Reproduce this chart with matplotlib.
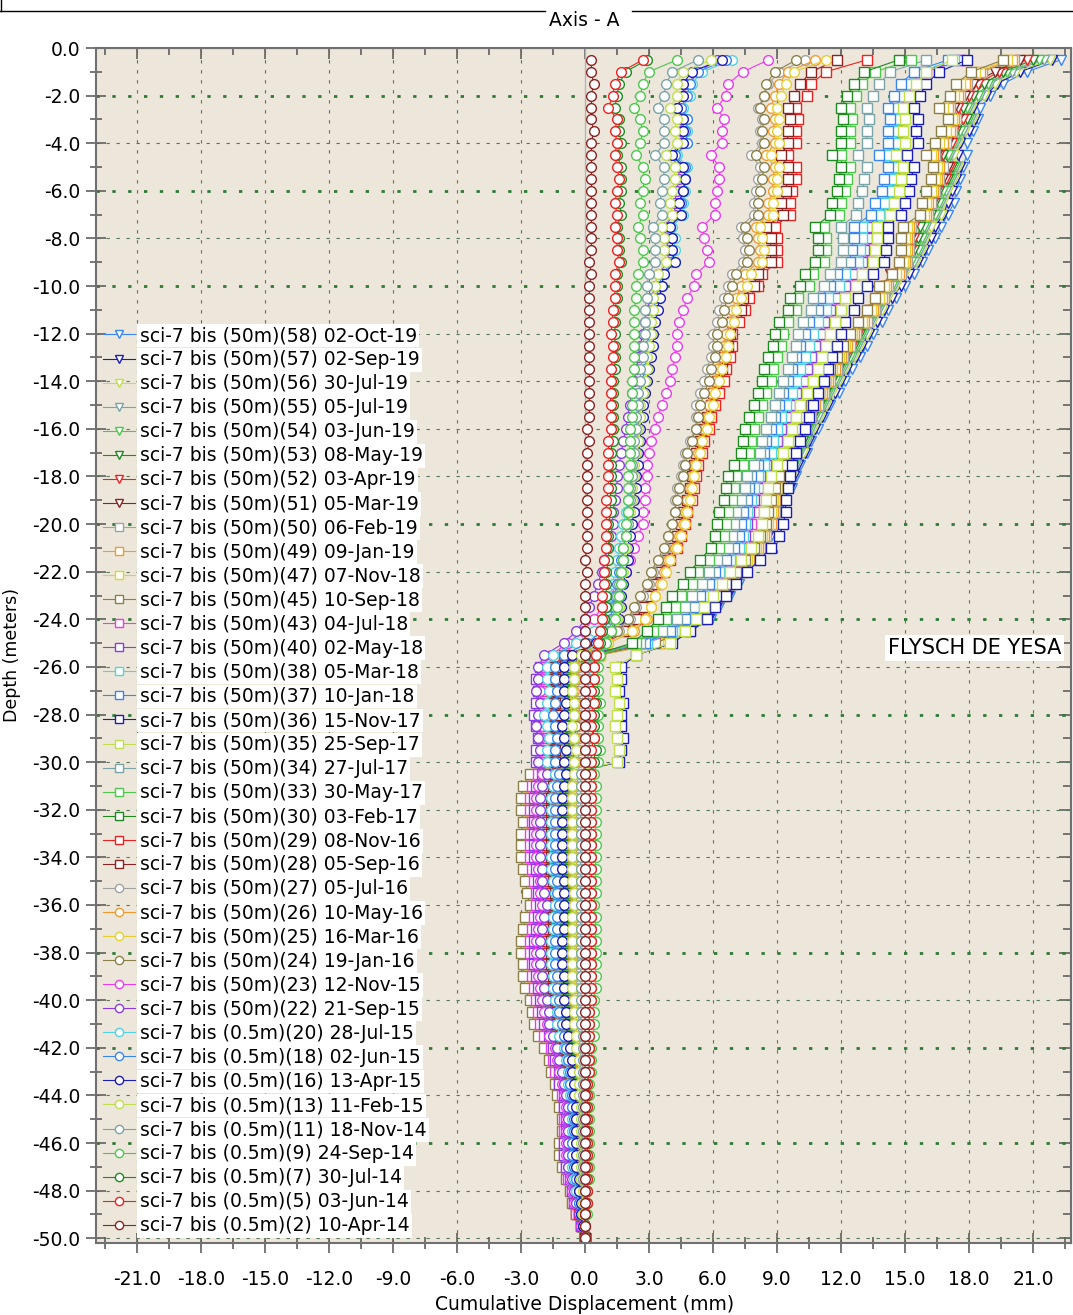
import numpy as np
import matplotlib
matplotlib.use('Agg')
import matplotlib.pyplot as plt
from matplotlib.lines import Line2D
from matplotlib.ticker import MultipleLocator, FormatStrFormatter

plt.rcParams['font.family'] = ['DejaVu Sans']

# readings every 0.5 m, from -0.5 m down to -50 m
depth = -0.5 * np.arange(1, 101)

# cumulative displacement (mm) per reading, newest first
s58 = [22.3,20.7,19.6,19.0,18.5,18.4,18.2,17.9,17.9,17.7,17.6,17.4,17.3,17.0,16.7,16.4,16.1,15.8,15.4,15.0,14.6,14.2,13.9,13.5,
       13.2,12.9,12.5,12.2,11.9,11.5,11.2,10.9,10.6,10.4,10.1,9.9,9.7,9.4,9.2,9.0,8.7,8.4,8.0,7.6,7.2,6.8,6.3,5.9,
       4.9,3.4,0.2,-1.2,-1.3,-1.2,-1.3,-1.4,-1.3,-1.2,-1.3,-1.3,
       -2.2,-2.5,-2.6,-2.6,-2.5,-2.6,-2.6,-2.6,-2.5,-2.4,-2.3,-2.3,-2.4,-2.5,-2.6,-2.6,-2.5,-2.5,-2.4,-2.3,
       -2.2,-2.1,-1.9,-1.6,-1.5,-1.4,-1.2,-1.1,-1.0,-1.0,-1.0,-1.0,-1.0,-0.9,-0.8,-0.6,-0.5,-0.4,-0.2,0.0]
s57 = [21.9,20.4,19.3,18.8,18.2,18.3,18.0,17.6,17.5,17.6,17.4,17.2,17.0,16.8,16.4,16.2,15.9,15.6,15.2,14.8,14.4,14.0,13.7,13.3,
       13.0,12.7,12.3,12.0,11.7,11.4,11.1,10.8,10.5,10.3,10.0,9.8,9.6,9.3,9.1,8.9,8.6,8.3,7.9,7.5,7.1,6.7,6.2,5.8,
       4.9,3.3,0.1,-1.3,-1.4,-1.3,-1.4,-1.5,-1.4,-1.3,-1.4,-1.4,
       -2.1,-2.4,-2.5,-2.5,-2.5,-2.5,-2.5,-2.5,-2.4,-2.3,-2.3,-2.2,-2.3,-2.4,-2.5,-2.5,-2.5,-2.4,-2.3,-2.2,
       -2.1,-2.0,-1.8,-1.6,-1.4,-1.3,-1.2,-1.1,-1.0,-0.9,-0.9,-1.0,-1.0,-0.9,-0.8,-0.6,-0.5,-0.4,-0.2,0.0]
s56 = [21.8,20.2,19.2,18.7,18.1,18.2,17.8,17.5,17.3,17.5,17.3,17.0,16.8,16.7,16.2,16.0,15.8,15.5,15.0,14.6,14.2,13.9,13.5,13.2,
       12.9,12.6,12.2,11.9,11.6,11.3,11.0,10.7,10.4,10.2,9.9,9.7,9.5,9.2,9.0,8.8,8.5,8.2,7.8,7.4,7.0,6.6,6.1,5.7,
       4.8,3.3,0.2,-1.2,-1.3,-1.2,-1.3,-1.4,-1.3,-1.2,-1.3,-1.3,
       -2.1,-2.4,-2.5,-2.5,-2.5,-2.5,-2.5,-2.5,-2.4,-2.3,-2.3,-2.2,-2.3,-2.4,-2.5,-2.5,-2.5,-2.4,-2.3,-2.2,
       -2.1,-2.0,-1.8,-1.6,-1.4,-1.3,-1.2,-1.1,-1.0,-0.9,-0.9,-1.0,-1.0,-0.9,-0.8,-0.6,-0.5,-0.4,-0.2,0.0]
s55 = [21.5,20.0,19.0,18.5,18.0,18.1,17.7,17.4,17.1,17.4,17.2,16.9,16.7,16.5,16.0,15.9,15.7,15.4,14.9,14.5,14.1,13.8,13.4,13.1,
       12.8,12.5,12.1,11.8,11.5,11.2,10.9,10.6,10.4,10.1,9.9,9.6,9.4,9.1,8.9,8.8,8.5,8.1,7.7,7.3,6.9,6.5,6.0,5.6,
       4.7,3.2,0.1,-1.3,-1.4,-1.3,-1.4,-1.5,-1.4,-1.3,-1.4,-1.4,
       -2.0,-2.3,-2.4,-2.4,-2.4,-2.4,-2.4,-2.4,-2.3,-2.2,-2.2,-2.1,-2.2,-2.3,-2.4,-2.4,-2.4,-2.3,-2.2,-2.1,
       -2.0,-1.9,-1.7,-1.5,-1.4,-1.2,-1.2,-1.0,-1.0,-0.9,-0.9,-1.0,-1.0,-0.9,-0.7,-0.6,-0.5,-0.3,-0.2,0.0]
s54 = [21.3,19.8,18.9,18.4,17.9,18.0,17.6,17.3,17.0,17.3,17.1,16.8,16.6,16.4,15.9,15.8,15.6,15.3,14.8,14.4,14.0,13.7,13.3,13.0,
       12.7,12.4,12.0,11.7,11.4,11.1,10.8,10.5,10.3,10.0,9.8,9.6,9.3,9.1,8.9,8.7,8.4,8.1,7.7,7.3,6.9,6.4,6.0,5.6,
       4.7,3.2,0.2,-1.2,-1.3,-1.3,-1.2,-1.3,-1.4,-1.3,-1.2,-1.3,
       -2.0,-2.3,-2.4,-2.4,-2.4,-2.4,-2.4,-2.4,-2.3,-2.2,-2.2,-2.1,-2.2,-2.3,-2.4,-2.4,-2.4,-2.3,-2.2,-2.1,
       -2.0,-1.9,-1.7,-1.5,-1.4,-1.2,-1.2,-1.0,-1.0,-0.9,-0.9,-1.0,-1.0,-0.9,-0.7,-0.6,-0.5,-0.3,-0.2,0.0]
s53 = [21.0,19.6,18.7,18.2,17.7,17.9,17.4,17.1,16.8,17.2,17.0,16.6,16.4,16.2,15.7,15.6,15.4,15.1,14.6,14.2,13.9,13.6,13.2,12.9,
       12.6,12.3,11.9,11.6,11.3,11.0,10.7,10.4,10.2,9.9,9.7,9.5,9.2,9.0,8.8,8.6,8.3,8.0,7.6,7.2,6.8,6.3,5.9,5.5,
       4.6,3.1,0.2,-1.2,-1.3,-1.2,-1.3,-1.4,-1.3,-1.2,-1.3,-1.3,
       -2.0,-2.2,-2.3,-2.3,-2.3,-2.3,-2.3,-2.3,-2.2,-2.1,-2.1,-2.0,-2.1,-2.2,-2.3,-2.3,-2.3,-2.2,-2.1,-2.0,
       -1.9,-1.8,-1.7,-1.4,-1.3,-1.2,-1.1,-1.0,-0.9,-0.9,-0.9,-0.9,-0.9,-0.8,-0.7,-0.6,-0.5,-0.3,-0.2,0.0]
s52 = [20.7,19.4,18.4,18.0,17.5,17.7,17.3,17.2,16.6,17.1,16.9,16.5,16.3,16.1,15.4,15.4,15.3,15.0,14.4,14.1,13.8,13.4,13.1,12.8,
       12.5,12.2,11.8,11.5,11.2,10.9,10.6,10.3,10.1,9.9,9.6,9.4,9.2,9.0,8.8,8.6,8.3,7.9,7.5,7.1,6.7,6.3,5.8,5.4,
       4.6,3.1,0.3,-1.0,-1.1,-1.0,-1.1,-1.2,-1.1,-1.0,-1.1,-1.1,
       -2.0,-2.2,-2.3,-2.3,-2.3,-2.3,-2.3,-2.3,-2.2,-2.1,-2.1,-2.0,-2.1,-2.2,-2.3,-2.3,-2.3,-2.2,-2.1,-2.0,
       -1.9,-1.8,-1.7,-1.4,-1.3,-1.2,-1.1,-1.0,-0.9,-0.9,-0.9,-0.9,-0.9,-0.8,-0.7,-0.6,-0.5,-0.3,-0.2,0.0]
s51 = [20.4,19.2,18.2,17.8,17.3,17.5,17.2,17.0,16.5,17.0,16.8,16.4,16.2,16.0,15.3,15.3,15.2,14.9,14.3,14.0,13.7,13.3,13.0,12.7,
       12.4,12.1,11.7,11.4,11.1,10.8,10.5,10.2,10.0,9.8,9.5,9.3,9.1,8.9,8.7,8.5,8.2,7.9,7.5,7.1,6.7,6.2,5.8,5.4,
       4.5,3.0,0.2,-1.1,-1.2,-1.1,-1.2,-1.3,-1.2,-1.1,-1.2,-1.2,
       -1.9,-2.1,-2.2,-2.2,-2.2,-2.2,-2.2,-2.2,-2.1,-2.0,-2.0,-1.9,-2.0,-2.1,-2.2,-2.2,-2.2,-2.1,-2.0,-1.9,
       -1.8,-1.8,-1.6,-1.4,-1.3,-1.1,-1.1,-0.9,-0.9,-0.8,-0.8,-0.9,-0.9,-0.8,-0.7,-0.5,-0.4,-0.3,-0.2,0.0]
s50 = [20.1,18.6,17.9,17.6,17.1,17.4,17.2,16.9,16.4,16.8,16.6,16.4,16.2,16.1,15.3,15.2,15.2,15.1,14.8,14.2,14.0,13.6,13.2,12.7,
       12.4,12.1,11.8,11.5,11.2,10.9,10.6,10.3,10.1,9.9,9.6,9.4,9.2,9.0,8.9,8.8,8.5,8.2,7.8,7.4,6.9,6.5,6.0,5.6,
       4.9,3.6,0.7,-1.0,-1.1,-1.0,-1.1,-1.2,-1.1,-1.0,-1.1,-1.1,
       -2.2,-2.5,-2.6,-2.6,-2.5,-2.6,-2.6,-2.6,-2.5,-2.4,-2.3,-2.3,-2.4,-2.5,-2.6,-2.6,-2.5,-2.5,-2.4,-2.3,
       -2.2,-2.1,-1.9,-1.6,-1.5,-1.4,-1.2,-1.1,-1.0,-1.0,-1.0,-1.0,-1.0,-0.9,-0.8,-0.6,-0.5,-0.4,-0.2,0.0]
s49 = [20.0,18.5,17.8,17.5,17.0,17.3,17.1,16.8,16.3,16.6,16.5,16.3,16.1,16.0,15.2,15.1,15.1,15.0,14.7,14.1,13.9,13.5,13.1,12.6,
       12.3,12.0,11.7,11.4,11.1,10.8,10.5,10.2,10.0,9.8,9.5,9.3,9.1,8.9,8.8,8.7,8.4,8.1,7.7,7.3,6.8,6.4,5.9,5.5,
       4.8,3.5,0.6,-1.1,-1.2,-1.1,-1.2,-1.3,-1.2,-1.1,-1.2,-1.2,
       -2.3,-2.6,-2.7,-2.7,-2.6,-2.7,-2.7,-2.7,-2.6,-2.5,-2.4,-2.4,-2.5,-2.6,-2.7,-2.7,-2.6,-2.6,-2.5,-2.3,
       -2.2,-2.2,-1.9,-1.7,-1.5,-1.4,-1.3,-1.2,-1.1,-1.0,-1.0,-1.1,-1.1,-1.0,-0.8,-0.6,-0.5,-0.4,-0.2,0.0]
s47 = [19.8,18.3,17.6,17.3,16.8,17.2,16.9,16.6,16.2,16.5,16.4,16.2,16.0,15.9,15.1,15.0,15.0,14.9,14.6,14.0,13.8,13.4,13.0,12.5,
       12.2,11.9,11.6,11.3,11.0,10.7,10.4,10.1,9.9,9.7,9.4,9.2,9.0,8.8,8.7,8.6,8.3,8.0,7.6,7.2,6.7,6.3,5.8,5.4,
       4.7,3.4,0.7,-0.9,-1.0,-0.9,-1.0,-1.1,-1.0,-0.9,-1.0,-1.0,
       -2.4,-2.7,-2.8,-2.8,-2.7,-2.8,-2.8,-2.8,-2.7,-2.6,-2.5,-2.5,-2.6,-2.7,-2.8,-2.8,-2.7,-2.7,-2.6,-2.4,
       -2.3,-2.2,-2.0,-1.7,-1.6,-1.5,-1.3,-1.2,-1.1,-1.0,-1.0,-1.1,-1.1,-1.0,-0.8,-0.7,-0.6,-0.4,-0.2,0.0]
s45 = [19.6,18.1,17.4,17.1,16.6,17.0,16.7,16.4,16.0,16.3,16.2,16.0,15.8,15.7,14.9,14.8,14.8,14.7,14.4,13.8,13.6,13.2,12.8,12.4,
       12.1,11.8,11.5,11.2,10.9,10.6,10.3,10.0,9.8,9.6,9.3,9.1,8.9,8.7,8.6,8.5,8.2,7.9,7.5,7.1,6.6,6.2,5.7,5.3,
       4.6,3.3,0.6,-1.1,-1.2,-1.1,-1.2,-1.3,-1.2,-1.1,-1.2,-1.2,
       -2.6,-2.9,-3.0,-3.0,-2.9,-3.0,-3.0,-3.0,-2.9,-2.8,-2.7,-2.6,-2.8,-2.9,-3.0,-3.0,-2.9,-2.9,-2.8,-2.6,
       -2.5,-2.4,-2.2,-1.9,-1.7,-1.6,-1.4,-1.3,-1.2,-1.1,-1.1,-1.2,-1.2,-1.1,-0.9,-0.7,-0.6,-0.4,-0.2,0.0]
s43 = [17.6,16.0,15.4,15.1,14.8,14.9,14.8,14.9,14.5,14.8,14.7,14.6,14.3,14.1,13.4,13.4,13.3,13.2,12.7,12.4,11.9,11.7,11.4,11.2,
       11.0,10.8,10.6,10.4,10.1,9.8,9.6,9.4,9.2,9.0,8.7,8.4,8.2,8.1,7.9,7.8,7.7,7.5,7.1,6.6,6.3,5.8,5.5,5.1,
       4.3,2.9,-0.1,-1.9,-2.1,-2.0,-2.1,-2.2,-2.1,-2.0,-2.1,-2.1,
       -2.2,-2.5,-2.6,-2.6,-2.5,-2.6,-2.6,-2.6,-2.5,-2.4,-2.3,-2.3,-2.4,-2.5,-2.6,-2.6,-2.5,-2.5,-2.4,-2.3,
       -2.2,-2.1,-1.9,-1.6,-1.5,-1.4,-1.2,-1.1,-1.0,-1.0,-1.0,-1.0,-1.0,-0.9,-0.8,-0.6,-0.5,-0.4,-0.2,0.0]
s40 = [17.5,15.9,15.2,14.9,14.5,14.7,14.6,14.7,14.3,14.5,14.5,14.4,14.1,13.9,13.2,13.2,13.1,13.0,12.5,12.2,11.7,11.5,11.2,11.0,
       10.8,10.6,10.4,10.2,9.9,9.6,9.4,9.2,9.0,8.8,8.5,8.2,8.1,7.9,7.7,7.6,7.5,7.3,6.9,6.4,6.1,5.7,5.4,5.0,
       4.2,2.8,-0.2,-2.1,-2.3,-2.2,-2.3,-2.4,-2.3,-2.2,-2.3,-2.3,
       -2.0,-2.3,-2.4,-2.4,-2.4,-2.4,-2.4,-2.4,-2.3,-2.2,-2.2,-2.1,-2.2,-2.3,-2.4,-2.4,-2.4,-2.3,-2.2,-2.1,
       -2.0,-1.9,-1.7,-1.5,-1.4,-1.2,-1.2,-1.0,-1.0,-0.9,-0.9,-1.0,-1.0,-0.9,-0.7,-0.6,-0.5,-0.3,-0.2,0.0]
s38 = [17.3,15.7,15.1,14.9,14.6,14.7,14.6,14.6,14.2,14.6,14.4,14.3,14.0,13.8,13.0,13.0,12.9,12.8,12.2,11.9,11.4,11.3,10.9,10.7,
       10.5,10.3,10.1,9.9,9.7,9.4,9.2,9.0,8.8,8.7,8.4,8.1,7.9,7.8,7.6,7.5,7.4,7.2,6.8,6.3,6.0,5.6,5.3,4.9,
       4.1,2.9,0.2,-1.5,-1.6,-1.5,-1.6,-1.7,-1.6,-1.5,-1.6,-1.6,
       -1.6,-1.8,-1.9,-1.9,-1.9,-1.9,-1.9,-1.9,-1.8,-1.8,-1.7,-1.7,-1.7,-1.8,-1.9,-1.9,-1.9,-1.8,-1.7,-1.7,
       -1.6,-1.5,-1.4,-1.2,-1.1,-1.0,-0.9,-0.8,-0.8,-0.7,-0.7,-0.8,-0.8,-0.7,-0.6,-0.5,-0.4,-0.3,-0.1,0.0]
s37 = [17.0,15.4,14.8,14.5,14.2,14.3,14.2,14.2,13.8,14.2,14.0,13.9,13.6,13.4,12.6,12.6,12.5,12.4,11.8,11.5,11.0,10.9,10.5,10.3,
       10.1,9.9,9.7,9.5,9.3,9.1,8.9,8.7,8.5,8.4,8.1,7.8,7.7,7.6,7.4,7.3,7.2,7.0,6.6,6.1,5.8,5.4,5.1,4.7,
       4.0,2.8,0.3,-1.2,-1.3,-1.2,-1.3,-1.4,-1.3,-1.2,-1.3,-1.3,
       -1.5,-1.7,-1.8,-1.8,-1.8,-1.8,-1.8,-1.8,-1.7,-1.7,-1.6,-1.6,-1.7,-1.7,-1.8,-1.8,-1.8,-1.7,-1.7,-1.6,
       -1.5,-1.4,-1.3,-1.1,-1.0,-0.9,-0.9,-0.8,-0.7,-0.7,-0.7,-0.7,-0.7,-0.6,-0.5,-0.4,-0.4,-0.3,-0.1,0.0]
s36 = [17.9,16.6,16.0,15.7,15.4,15.6,15.5,15.6,15.1,15.4,15.3,15.2,15.0,14.8,14.2,14.2,14.1,14.0,13.5,13.2,12.8,12.6,12.2,12.0,
       11.8,11.6,11.4,11.2,10.9,10.7,10.5,10.3,10.1,9.9,9.7,9.6,9.5,9.4,9.4,9.3,9.1,8.7,8.2,7.6,7.1,6.6,6.1,5.7,
       4.9,4.1,2.4,1.7,1.7,1.6,1.8,1.7,1.7,1.8,1.7,1.6,
       -0.9,-1.0,-1.1,-1.1,-1.1,-1.1,-1.1,-1.1,-1.1,-1.0,-1.0,-1.0,-1.0,-1.0,-1.1,-1.1,-1.1,-1.0,-1.0,-1.0,
       -0.9,-0.9,-0.8,-0.7,-0.6,-0.6,-0.5,-0.5,-0.4,-0.4,-0.4,-0.4,-0.4,-0.4,-0.3,-0.3,-0.2,-0.2,-0.1,0.0]
s35 = [17.2,16.0,15.5,15.2,14.9,15.0,14.9,15.0,14.6,14.9,14.8,14.7,14.5,14.3,13.7,13.7,13.6,13.5,13.0,12.7,12.2,12.0,11.7,11.5,
       11.3,11.1,10.9,10.7,10.4,10.1,9.9,9.7,9.5,9.3,9.0,8.7,8.6,8.5,8.4,8.3,8.1,7.8,7.3,6.8,6.4,6.0,5.6,5.2,
       4.7,4.0,2.4,1.4,1.5,1.4,1.6,1.5,1.4,1.5,1.6,1.5,
       -1.0,-1.1,-1.2,-1.2,-1.2,-1.2,-1.2,-1.2,-1.2,-1.1,-1.1,-1.1,-1.1,-1.1,-1.2,-1.2,-1.2,-1.1,-1.1,-1.0,
       -1.0,-1.0,-0.9,-0.7,-0.7,-0.6,-0.6,-0.5,-0.5,-0.4,-0.4,-0.5,-0.5,-0.4,-0.4,-0.3,-0.2,-0.2,-0.1,0.0]
s34 = [16.0,14.3,13.8,13.5,13.2,13.3,13.2,13.2,12.8,13.2,13.1,13.0,12.8,12.7,12.0,12.1,12.1,12.0,11.5,11.2,10.7,10.6,10.2,10.0,
       9.9,9.7,9.5,9.3,9.1,8.9,8.7,8.5,8.3,8.2,7.9,7.6,7.5,7.3,7.1,7.0,6.9,6.7,6.2,5.8,5.5,5.0,4.7,4.3,
       3.6,2.6,0.4,-0.9,-1.0,-1.1,-1.0,-0.9,-1.0,-1.1,-1.0,-1.0,
       -1.3,-1.4,-1.5,-1.5,-1.5,-1.5,-1.5,-1.5,-1.5,-1.4,-1.4,-1.3,-1.4,-1.4,-1.5,-1.5,-1.5,-1.4,-1.4,-1.3,
       -1.2,-1.2,-1.1,-0.9,-0.9,-0.8,-0.7,-0.6,-0.6,-0.6,-0.6,-0.6,-0.6,-0.5,-0.5,-0.4,-0.3,-0.2,-0.1,0.0]
s33 = [15.3,13.6,13.0,12.7,12.4,12.5,12.4,12.4,12.0,12.4,12.3,12.2,12.0,11.9,11.2,11.3,11.3,11.2,10.7,10.5,10.0,9.9,9.5,9.3,
       9.2,9.0,8.8,8.7,8.5,8.3,8.1,7.9,7.8,7.7,7.4,7.1,7.0,6.9,6.7,6.6,6.5,6.3,5.8,5.3,5.0,4.5,4.2,3.8,
       3.2,2.4,0.6,-0.5,-0.6,-0.6,-0.5,-0.6,-0.7,-0.6,-0.6,-0.6,
       -0.8,-0.9,-0.9,-0.9,-0.9,-0.9,-0.9,-0.9,-0.9,-0.8,-0.8,-0.8,-0.8,-0.9,-0.9,-0.9,-0.9,-0.9,-0.8,-0.8,
       -0.7,-0.7,-0.6,-0.6,-0.5,-0.5,-0.4,-0.4,-0.4,-0.3,-0.3,-0.4,-0.4,-0.3,-0.3,-0.2,-0.2,-0.1,-0.1,0.0]
s30 = [14.7,13.1,12.6,12.3,12.0,12.1,12.0,12.0,11.6,12.0,11.9,11.8,11.6,11.5,10.8,10.9,10.9,10.8,10.3,10.1,9.6,9.5,9.1,8.9,
       8.8,8.6,8.4,8.3,8.1,7.9,7.7,7.5,7.4,7.3,7.0,6.7,6.6,6.5,6.3,6.2,6.1,5.9,5.4,4.9,4.6,4.1,3.8,3.4,
       2.9,2.2,0.4,-0.6,-0.7,-0.8,-0.7,-0.8,-0.9,-0.8,-0.7,-0.8,
       -0.9,-1.0,-1.0,-1.0,-1.0,-1.0,-1.0,-1.0,-1.0,-0.9,-0.9,-0.9,-0.9,-1.0,-1.0,-1.0,-1.0,-1.0,-0.9,-0.9,
       -0.8,-0.8,-0.7,-0.6,-0.6,-0.5,-0.5,-0.4,-0.4,-0.4,-0.4,-0.4,-0.4,-0.4,-0.3,-0.2,-0.2,-0.1,-0.1,0.0]
s29 = [13.2,11.3,10.6,10.4,9.9,10.0,9.9,9.9,9.5,9.9,9.9,9.7,9.6,9.6,8.9,9.0,9.0,9.0,8.3,8.1,7.7,7.5,7.2,6.9,
       6.9,6.8,6.6,6.5,6.3,6.1,5.9,5.8,5.6,5.5,5.3,5.2,5.1,5.0,4.8,4.7,4.5,4.3,4.0,3.7,3.4,3.1,2.9,2.6,
       2.0,0.9,-1.0,-1.5,-1.5,-1.6,-1.5,-1.4,-1.5,-1.6,-1.5,-1.5,
       -1.5,-1.7,-1.8,-1.8,-1.8,-1.8,-1.8,-1.8,-1.7,-1.7,-1.6,-1.6,-1.7,-1.7,-1.8,-1.8,-1.8,-1.7,-1.7,-1.6,
       -1.5,-1.4,-1.3,-1.1,-1.0,-0.9,-0.9,-0.8,-0.7,-0.7,-0.7,-0.7,-0.7,-0.6,-0.5,-0.4,-0.4,-0.3,-0.1,0.0]
s28 = [11.8,10.6,10.1,9.8,9.5,9.6,9.5,9.5,9.2,9.5,9.5,9.4,9.2,9.3,8.5,8.7,8.7,8.7,8.1,7.9,7.4,7.3,6.9,6.8,
       6.7,6.5,6.4,6.2,6.0,5.9,5.7,5.5,5.4,5.2,5.1,5.0,4.9,4.8,4.6,4.5,4.3,4.1,3.8,3.5,3.2,2.9,2.7,2.4,
       1.8,0.8,-0.9,-1.4,-1.4,-1.5,-1.4,-1.3,-1.4,-1.5,-1.4,-1.4,
       -1.4,-1.5,-1.6,-1.6,-1.6,-1.6,-1.6,-1.6,-1.6,-1.5,-1.4,-1.4,-1.5,-1.5,-1.6,-1.6,-1.6,-1.5,-1.5,-1.4,
       -1.3,-1.3,-1.2,-1.0,-0.9,-0.8,-0.8,-0.7,-0.6,-0.6,-0.6,-0.6,-0.6,-0.6,-0.5,-0.4,-0.3,-0.2,-0.1,0.0]
s27 = [10.3,9.1,8.6,8.4,8.1,8.3,8.2,8.3,7.8,8.2,8.1,8.0,7.9,7.9,7.3,7.4,7.5,7.4,6.9,6.7,6.5,6.3,6.2,6.0,
       6.0,5.9,5.7,5.6,5.4,5.2,5.2,5.2,4.9,4.7,4.6,4.5,4.3,4.2,4.2,4.1,3.9,3.8,3.5,3.2,3.0,2.7,2.4,2.1,
       1.6,0.8,-0.1,-0.3,-0.3,-0.3,-0.2,-0.3,-0.4,-0.3,-0.3,-0.3,
       -0.3,-0.4,-0.4,-0.4,-0.4,-0.4,-0.4,-0.4,-0.4,-0.4,-0.4,-0.4,-0.4,-0.4,-0.4,-0.4,-0.4,-0.4,-0.4,-0.3,
       -0.3,-0.3,-0.3,-0.2,-0.2,-0.2,-0.2,-0.2,-0.2,-0.1,-0.1,-0.2,-0.2,-0.1,-0.1,-0.1,-0.1,-0.1,0.0,0.0]
s26 = [10.8,9.5,9.1,8.9,8.7,8.9,8.8,8.9,8.5,8.9,8.8,8.8,8.6,8.6,8.0,8.1,8.2,8.1,7.5,7.3,7.1,6.9,6.8,6.6,
       6.5,6.4,6.2,6.1,5.9,5.8,5.7,5.6,5.4,5.3,5.1,5.0,4.9,4.8,4.7,4.6,4.4,4.2,3.9,3.7,3.5,3.3,3.1,2.9,
       2.3,1.1,-0.2,-0.4,-0.4,-0.5,-0.4,-0.4,-0.3,-0.4,-0.5,-0.4,
       -0.6,-0.7,-0.7,-0.7,-0.7,-0.7,-0.7,-0.7,-0.7,-0.7,-0.6,-0.6,-0.6,-0.7,-0.7,-0.7,-0.7,-0.7,-0.6,-0.6,
       -0.6,-0.6,-0.5,-0.4,-0.4,-0.4,-0.3,-0.3,-0.3,-0.3,-0.3,-0.3,-0.3,-0.3,-0.2,-0.2,-0.1,-0.1,0.0,0.0]
s25 = [11.3,9.8,9.4,9.2,9.0,9.1,9.0,9.1,8.7,9.1,9.0,9.0,8.8,8.8,8.2,8.3,8.4,8.3,7.8,7.6,7.3,7.1,7.0,6.8,
       6.7,6.6,6.4,6.3,6.1,6.0,5.8,5.7,5.5,5.4,5.2,5.1,5.0,4.9,4.8,4.7,4.5,4.3,4.0,3.8,3.6,3.3,3.1,2.8,
       2.2,1.1,-0.3,-0.6,-0.6,-0.6,-0.7,-0.6,-0.5,-0.6,-0.6,-0.6,
       -0.4,-0.5,-0.5,-0.5,-0.5,-0.5,-0.5,-0.5,-0.5,-0.5,-0.5,-0.4,-0.5,-0.5,-0.5,-0.5,-0.5,-0.5,-0.5,-0.4,
       -0.4,-0.4,-0.4,-0.3,-0.3,-0.3,-0.2,-0.2,-0.2,-0.2,-0.2,-0.2,-0.2,-0.2,-0.2,-0.1,-0.1,-0.1,0.0,0.0]
s24 = [9.9,8.9,8.5,8.4,8.2,8.4,8.3,8.4,8.0,8.4,8.3,8.2,8.1,8.1,7.5,7.6,7.7,7.6,7.1,6.9,6.7,6.5,6.4,6.2,
       6.2,6.1,5.9,5.8,5.6,5.4,5.3,5.2,5.0,4.8,4.7,4.6,4.4,4.3,4.2,4.1,3.9,3.7,3.4,3.1,2.9,2.6,2.3,2.0,
       1.5,0.7,-0.3,-0.5,-0.5,-0.6,-0.5,-0.5,-0.4,-0.5,-0.6,-0.5,
       -0.5,-0.6,-0.6,-0.6,-0.6,-0.6,-0.6,-0.6,-0.6,-0.6,-0.5,-0.5,-0.6,-0.6,-0.6,-0.6,-0.6,-0.6,-0.6,-0.5,
       -0.5,-0.5,-0.4,-0.4,-0.3,-0.3,-0.3,-0.3,-0.2,-0.2,-0.2,-0.2,-0.2,-0.2,-0.2,-0.1,-0.1,-0.1,0.0,0.0]
s23 = [8.6,7.4,6.7,6.6,6.2,6.5,6.4,6.4,5.9,6.3,6.3,6.2,6.1,6.1,5.5,5.6,5.7,5.8,5.2,5.1,4.8,4.6,4.4,4.3,
       4.3,4.2,4.1,4.0,3.8,3.6,3.4,3.3,3.1,3.0,2.9,2.9,2.8,2.8,2.7,2.7,2.5,2.3,2.1,1.9,1.5,1.2,0.8,0.4,
       -0.1,-0.8,-1.6,-2.0,-2.0,-2.1,-2.0,-1.9,-2.0,-2.1,-2.0,-2.0,
       -2.0,-2.2,-2.3,-2.3,-2.3,-2.3,-2.3,-2.3,-2.2,-2.1,-2.1,-2.0,-2.1,-2.2,-2.3,-2.3,-2.3,-2.2,-2.1,-2.0,
       -1.9,-1.8,-1.7,-1.4,-1.3,-1.2,-1.1,-1.0,-0.9,-0.9,-0.9,-0.9,-0.9,-0.8,-0.7,-0.6,-0.5,-0.3,-0.2,0.0]
s22 = [6.2,5.3,4.8,4.6,4.3,4.5,4.5,4.5,4.0,4.4,4.4,4.3,4.2,4.2,3.7,3.8,3.9,3.9,3.4,3.3,3.1,2.9,2.8,2.7,
       2.6,2.5,2.4,2.3,2.2,2.1,2.0,1.9,1.8,1.7,1.6,1.5,1.5,1.4,1.3,1.3,1.2,1.1,0.9,0.8,0.6,0.4,0.2,0.0,
       -0.4,-1.0,-1.9,-2.2,-2.2,-2.3,-2.1,-2.2,-2.3,-2.2,-2.1,-2.2,
       -1.8,-2.0,-2.1,-2.1,-2.1,-2.1,-2.1,-2.1,-2.0,-2.0,-1.9,-1.8,-1.9,-2.0,-2.1,-2.1,-2.1,-2.0,-1.9,-1.8,
       -1.7,-1.7,-1.5,-1.3,-1.2,-1.1,-1.0,-0.9,-0.8,-0.8,-0.8,-0.8,-0.8,-0.8,-0.6,-0.5,-0.4,-0.3,-0.1,0.0]
s20 = [6.9,5.5,5.0,4.9,4.6,4.8,4.8,4.8,4.3,4.8,4.7,4.7,4.6,4.6,4.1,4.2,4.2,4.2,3.7,3.6,3.4,3.2,3.1,3.0,
       3.0,2.9,2.8,2.7,2.6,2.6,2.5,2.4,2.3,2.3,2.2,2.1,2.1,2.0,1.9,1.8,1.7,1.6,1.5,1.4,1.3,1.2,1.1,0.9,
       0.4,-0.4,-1.5,-1.8,-1.8,-1.7,-1.8,-1.9,-1.8,-1.7,-1.8,-1.8,
       -1.4,-1.5,-1.6,-1.6,-1.6,-1.6,-1.6,-1.6,-1.6,-1.5,-1.4,-1.4,-1.5,-1.5,-1.6,-1.6,-1.6,-1.5,-1.5,-1.4,
       -1.3,-1.3,-1.2,-1.0,-0.9,-0.8,-0.8,-0.7,-0.6,-0.6,-0.6,-0.6,-0.6,-0.6,-0.5,-0.4,-0.3,-0.2,-0.1,0.0]
s18 = [6.6,5.3,4.9,4.8,4.5,4.8,4.7,4.8,4.2,4.7,4.7,4.6,4.5,4.5,4.0,4.1,4.1,4.1,3.6,3.5,3.3,3.2,3.1,3.0,
       2.9,2.9,2.8,2.7,2.6,2.5,2.5,2.5,2.4,2.3,2.3,2.2,2.2,2.1,2.1,2.0,1.9,1.8,1.7,1.6,1.5,1.4,1.3,1.2,
       0.8,0.1,-1.0,-1.4,-1.4,-1.3,-1.4,-1.5,-1.4,-1.3,-1.4,-1.4,
       -1.2,-1.3,-1.4,-1.4,-1.4,-1.4,-1.4,-1.4,-1.4,-1.3,-1.3,-1.2,-1.3,-1.3,-1.4,-1.4,-1.4,-1.3,-1.3,-1.2,
       -1.2,-1.1,-1.0,-0.9,-0.8,-0.7,-0.7,-0.6,-0.6,-0.5,-0.5,-0.6,-0.6,-0.5,-0.4,-0.3,-0.3,-0.2,-0.1,0.0]
s16 = [6.4,5.0,4.6,4.6,4.3,4.6,4.6,4.6,4.1,4.6,4.7,4.6,4.4,4.5,4.0,4.1,4.1,4.2,3.7,3.6,3.5,3.4,3.3,3.2,
       3.2,3.1,3.0,2.9,2.8,2.7,2.7,2.6,2.6,2.5,2.5,2.4,2.4,2.3,2.3,2.2,2.1,2.0,2.0,1.9,1.8,1.7,1.7,1.6,
       1.2,0.5,-0.6,-1.0,-1.0,-1.0,-0.9,-1.0,-1.1,-1.0,-0.9,-1.0,
       -0.9,-1.0,-1.1,-1.1,-1.1,-1.1,-1.1,-1.1,-1.1,-1.0,-1.0,-1.0,-1.0,-1.0,-1.1,-1.1,-1.1,-1.0,-1.0,-1.0,
       -0.9,-0.9,-0.8,-0.7,-0.6,-0.6,-0.5,-0.5,-0.4,-0.4,-0.4,-0.4,-0.4,-0.4,-0.3,-0.3,-0.2,-0.2,-0.1,0.0]
s13 = [5.9,4.6,4.3,4.3,4.0,4.3,4.2,4.3,3.8,4.2,4.2,4.1,4.0,4.1,3.6,3.7,3.7,3.8,3.4,3.3,3.2,3.2,3.1,3.1,
       3.0,2.9,2.9,2.8,2.7,2.6,2.6,2.5,2.5,2.4,2.3,2.3,2.2,2.2,2.1,2.0,1.9,1.9,1.8,1.8,1.7,1.6,1.6,1.5,
       1.2,0.6,-0.2,-0.5,-0.5,-0.6,-0.5,-0.5,-0.6,-0.5,-0.4,-0.5,
       -0.5,-0.6,-0.6,-0.6,-0.6,-0.6,-0.6,-0.6,-0.6,-0.6,-0.5,-0.5,-0.6,-0.6,-0.6,-0.6,-0.6,-0.6,-0.6,-0.5,
       -0.5,-0.5,-0.4,-0.4,-0.3,-0.3,-0.3,-0.3,-0.2,-0.2,-0.2,-0.2,-0.2,-0.2,-0.2,-0.1,-0.1,-0.1,0.0,0.0]
s11 = [5.3,4.1,3.8,3.7,3.4,3.7,3.7,3.7,3.3,3.7,3.7,3.6,3.5,3.6,3.2,3.3,3.3,3.3,3.0,2.9,2.9,2.8,2.8,2.8,
       2.7,2.7,2.6,2.6,2.5,2.5,2.4,2.4,2.3,2.3,2.2,2.2,2.1,2.1,2.0,2.0,1.9,1.8,1.8,1.7,1.6,1.5,1.4,1.3,
       1.1,0.8,0.4,0.2,0.2,0.1,0.2,0.2,0.1,0.2,0.2,0.1,
       -0.2,-0.2,-0.2,-0.2,-0.2,-0.2,-0.2,-0.2,-0.2,-0.2,-0.2,-0.2,-0.2,-0.2,-0.2,-0.2,-0.2,-0.2,-0.2,-0.2,
       -0.2,-0.2,-0.1,-0.1,-0.1,-0.1,-0.1,-0.1,-0.1,-0.1,-0.1,-0.1,-0.1,-0.1,-0.1,0.0,0.0,0.0,0.0,0.0]
s9 = [4.3,3.0,2.7,2.6,2.3,2.6,2.7,2.6,2.4,2.7,2.8,2.7,2.6,2.7,2.5,2.6,2.7,2.7,2.5,2.4,2.4,2.3,2.3,2.3,
      2.3,2.3,2.3,2.2,2.2,2.2,2.2,2.1,2.1,2.1,2.1,2.0,2.0,2.0,2.0,1.9,1.9,1.8,1.8,1.7,1.7,1.6,1.5,1.4,
      1.2,1.0,0.7,0.6,0.6,0.6,0.7,0.6,0.6,0.6,0.7,0.6,
      0.4,0.5,0.5,0.5,0.5,0.5,0.5,0.5,0.5,0.5,0.5,0.4,0.5,0.5,0.5,0.5,0.5,0.5,0.5,0.4,
      0.4,0.4,0.4,0.3,0.3,0.3,0.2,0.2,0.2,0.2,0.2,0.2,0.2,0.2,0.2,0.1,0.1,0.1,0.0,0.0]
s7 = [2.9,1.9,1.6,1.5,1.4,1.6,1.6,1.7,1.5,1.7,1.7,1.7,1.6,1.7,1.5,1.6,1.6,1.7,1.5,1.5,1.5,1.4,1.4,1.4,
      1.4,1.4,1.4,1.3,1.3,1.3,1.3,1.3,1.3,1.2,1.2,1.2,1.2,1.2,1.2,1.1,1.1,1.1,1.1,1.0,1.0,1.0,1.0,0.9,
      0.8,0.7,0.5,0.4,0.4,0.4,0.5,0.4,0.4,0.4,0.5,0.4,
      0.3,0.3,0.3,0.3,0.3,0.3,0.3,0.3,0.3,0.3,0.3,0.3,0.3,0.3,0.3,0.3,0.3,0.3,0.3,0.3,
      0.2,0.2,0.2,0.2,0.2,0.2,0.1,0.1,0.1,0.1,0.1,0.1,0.1,0.1,0.1,0.1,0.1,0.0,0.0,0.0]
s5 = [2.7,1.7,1.4,1.3,1.1,1.5,1.4,1.5,1.4,1.5,1.6,1.5,1.4,1.5,1.4,1.5,1.5,1.6,1.4,1.4,1.4,1.3,1.3,1.2,
      1.3,1.3,1.2,1.2,1.2,1.2,1.2,1.2,1.1,1.1,1.1,1.1,1.1,1.0,1.0,1.0,1.0,1.0,0.9,0.9,0.9,0.8,0.8,0.8,
      0.7,0.6,0.5,0.4,0.4,0.3,0.4,0.3,0.3,0.4,0.3,0.3,
      0.3,0.3,0.3,0.3,0.3,0.3,0.3,0.3,0.3,0.3,0.3,0.3,0.3,0.3,0.3,0.3,0.3,0.3,0.3,0.3,
      0.2,0.2,0.2,0.2,0.2,0.2,0.1,0.1,0.1,0.1,0.1,0.1,0.1,0.1,0.1,0.1,0.1,0.0,0.0,0.0]
s2 = [0.3,0.3,0.4,0.3,0.3,0.3,0.4,0.3,0.3,0.3,0.3,0.3,0.3,0.3,0.3,0.3,0.3,0.2,0.3,0.2,0.2,0.2,0.2,0.2,
      0.2,0.2,0.2,0.2,0.2,0.2,0.2,0.1,0.2,0.1,0.1,0.1,0.1,0.1,0.1,0.1,0.1,0.1,0.0,0.1,0.0,0.0,0.0,0.0,
      0.0,0.0,0.0,0.0,0.0,0.0,0.0,0.0,0.0,0.0,0.0,0.0,
      0.0,0.0,0.0,0.0,0.0,0.0,0.0,0.0,0.0,0.0,0.0,0.0,0.0,0.0,0.0,0.0,0.0,0.0,0.0,0.0,
      0.0,0.0,0.0,0.0,0.0,0.0,0.0,0.0,0.0,0.0,0.0,0.0,0.0,0.0,0.0,0.0,0.0,0.0,0.0,0.0]

series = [s58, s57, s56, s55, s54, s53, s52, s51, s50, s49, s47, s45, s43, s40, s38,
          s37, s36, s35, s34, s33, s30, s29, s28, s27, s26, s25, s24, s23, s22, s20,
          s18, s16, s13, s11, s9, s7, s5, s2]

labels = [
    'sci-7 bis (50m)(58) 02-Oct-19', 'sci-7 bis (50m)(57) 02-Sep-19',
    'sci-7 bis (50m)(56) 30-Jul-19', 'sci-7 bis (50m)(55) 05-Jul-19',
    'sci-7 bis (50m)(54) 03-Jun-19', 'sci-7 bis (50m)(53) 08-May-19',
    'sci-7 bis (50m)(52) 03-Apr-19', 'sci-7 bis (50m)(51) 05-Mar-19',
    'sci-7 bis (50m)(50) 06-Feb-19', 'sci-7 bis (50m)(49) 09-Jan-19',
    'sci-7 bis (50m)(47) 07-Nov-18', 'sci-7 bis (50m)(45) 10-Sep-18',
    'sci-7 bis (50m)(43) 04-Jul-18', 'sci-7 bis (50m)(40) 02-May-18',
    'sci-7 bis (50m)(38) 05-Mar-18', 'sci-7 bis (50m)(37) 10-Jan-18',
    'sci-7 bis (50m)(36) 15-Nov-17', 'sci-7 bis (50m)(35) 25-Sep-17',
    'sci-7 bis (50m)(34) 27-Jul-17', 'sci-7 bis (50m)(33) 30-May-17',
    'sci-7 bis (50m)(30) 03-Feb-17', 'sci-7 bis (50m)(29) 08-Nov-16',
    'sci-7 bis (50m)(28) 05-Sep-16', 'sci-7 bis (50m)(27) 05-Jul-16',
    'sci-7 bis (50m)(26) 10-May-16', 'sci-7 bis (50m)(25) 16-Mar-16',
    'sci-7 bis (50m)(24) 19-Jan-16', 'sci-7 bis (50m)(23) 12-Nov-15',
    'sci-7 bis (50m)(22) 21-Sep-15', 'sci-7 bis (0.5m)(20) 28-Jul-15',
    'sci-7 bis (0.5m)(18) 02-Jun-15', 'sci-7 bis (0.5m)(16) 13-Apr-15',
    'sci-7 bis (0.5m)(13) 11-Feb-15', 'sci-7 bis (0.5m)(11) 18-Nov-14',
    'sci-7 bis (0.5m)(9) 24-Sep-14', 'sci-7 bis (0.5m)(7) 30-Jul-14',
    'sci-7 bis (0.5m)(5) 03-Jun-14', 'sci-7 bis (0.5m)(2) 10-Apr-14',
]

# 15 colour cycle of the inclinometer software (newest first)
cycle = ['#3a86f0', '#1c1cb8', '#bfe04a', '#7aa4a8', '#4cc84c', '#1f8a1f', '#ee2020', '#8b2323',
         '#a2a2a2', '#f29a2e', '#e6d030', '#8c8048', '#ec3aec', '#8a3ce6', '#50d4e4']
colors = [cycle[i % 15] for i in range(len(series))]
markers = ['v'] * 8 + ['s'] * 15 + ['o'] * 15

for vals in series:
    assert len(vals) == 100, len(vals)

W, H = 1073, 1315
fig = plt.figure(figsize=(W / 100, H / 100), dpi=100)
ax_l, ax_r, ax_t, ax_b = 96, 1071, 48, 1243
ax = fig.add_axes([ax_l / W, 1 - ax_b / H, (ax_r - ax_l) / W, (ax_b - ax_t) / H])
ax.set_facecolor('#ECE7DA')
ax.set_xlim(-22.92, 22.78)
ax.set_ylim(-50.2, 0)

# grid
for xv in range(-21, 22, 3):
    if xv == 0:
        ax.axvline(0, color='#b4b4b4', lw=1.0, zorder=0.5)
    else:
        ax.axvline(xv, color='#56785a', lw=0.8, dashes=(3, 6), zorder=0.5)
bold_rows = [-2, -6, -10, -20, -24, -28, -38, -42, -46]
for yv in range(-2, -51, -2):
    if yv in bold_rows:
        ax.axhline(yv, color='#2f7a35', lw=2.0, dashes=(1.2, 4.5), zorder=0.5)
    else:
        ax.axhline(yv, color='#56785a', lw=0.8, dashes=(3, 6), zorder=0.5)

for vals, lab, col, mk in zip(series, labels, colors, markers):
    ax.plot(vals, depth, color=col, lw=0.8, marker=mk, ms=7, mfc='white',
            mec=col, mew=1.0, label=lab, zorder=2)

# axes styling
for side in ['left', 'bottom', 'top', 'right']:
    ax.spines[side].set_color('#707070')
    ax.spines[side].set_linewidth(1.5)
ax.set_xticks(np.arange(-21, 22, 3))
ax.xaxis.set_minor_locator(MultipleLocator(1.5))
ax.xaxis.set_major_formatter(FormatStrFormatter('%.1f'))
ax.yaxis.set_major_locator(MultipleLocator(2))
ax.yaxis.set_minor_locator(MultipleLocator(1))
ax.yaxis.set_major_formatter(FormatStrFormatter('%.1f'))
ax.tick_params(axis='x', which='major', direction='inout', length=15, width=1.2,
               color='#606060', labelsize=13.5, pad=12)
ax.tick_params(axis='x', which='minor', direction='inout', length=9, width=1.2, color='#606060')
ax.tick_params(axis='y', which='major', direction='inout', length=15, width=1.2,
               color='#606060', labelsize=13.5, pad=4)
ax.tick_params(axis='y', which='minor', direction='inout', length=9, width=1.2, color='#606060')

top = ax.secondary_xaxis('top')
top.set_xticks(np.arange(-21, 22, 3))
top.xaxis.set_minor_locator(MultipleLocator(1.5))
top.tick_params(which='major', direction='in', length=8, width=1.2, color='#606060', labeltop=False)
top.tick_params(which='minor', direction='in', length=5, width=1.2, color='#606060')
top.spines['top'].set_color('#707070')
right = ax.secondary_yaxis('right')
right.yaxis.set_major_locator(MultipleLocator(2))
right.yaxis.set_minor_locator(MultipleLocator(1))
right.tick_params(which='major', direction='in', length=9, width=1.2, color='#606060', labelright=False)
right.tick_params(which='minor', direction='in', length=6, width=1.2, color='#606060')

ax.set_xlabel('Cumulative Displacement (mm)', fontsize=13.5)
ax.xaxis.set_label_coords(0.5015, -0.0435)
ax.set_ylabel('Depth (meters)', fontsize=12.5)
ax.yaxis.set_label_coords(-0.077, 0.492)

leg = ax.legend(loc='upper left', bbox_to_anchor=(-22.6, -11.68), bbox_transform=ax.transData,
                frameon=False, fontsize=13.5, handlelength=1.7, handletextpad=0.27,
                labelspacing=0.27, borderpad=0, borderaxespad=0, markerscale=0.85)
leg.set_zorder(10)
for t in leg.get_texts():
    t.set_bbox(dict(facecolor='white', edgecolor='none', pad=1.8))

ax.text(14.2, -25.2, 'FLYSCH DE YESA', fontsize=15, ha='left', va='center', zorder=9,
        bbox=dict(facecolor='white', edgecolor='none', pad=2), clip_on=True)

# panel header
yline = 1 - 11 / H
fig.add_artist(Line2D([0, 545 / W], [yline, yline], transform=fig.transFigure, color='black', lw=1))
fig.add_artist(Line2D([632 / W, 1], [yline, yline], transform=fig.transFigure, color='black', lw=1))
fig.add_artist(Line2D([1 / W, 1 / W], [yline, 1], transform=fig.transFigure, color='black', lw=1))
fig.text(584 / W, 1 - 21 / H, 'Axis - A', fontsize=13.5, ha='center', va='center')

fig.savefig('out.png', dpi=100, facecolor='white')
